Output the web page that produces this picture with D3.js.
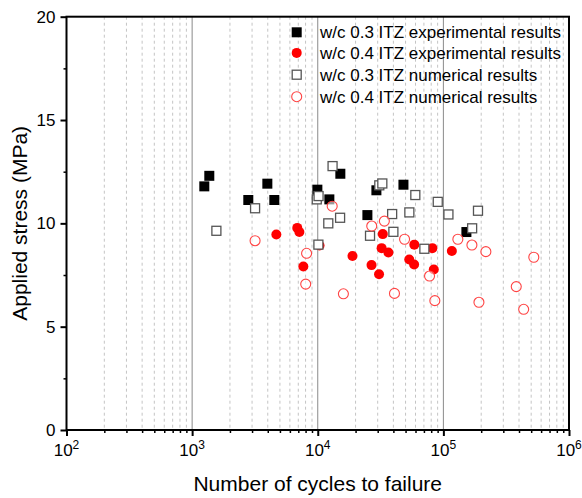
<!DOCTYPE html>
<html><head><meta charset="utf-8">
<script src="https://cdn.jsdelivr.net/npm/d3@7"></script>
<style>body{margin:0;background:#fff}svg{display:block;font-family:"Liberation Sans",Arial,sans-serif}</style>
</head><body><div id="chart"></div>
<script>
// w/c 0.3 ITZ experimental results [cycles, MPa]
const exp03 = [[1250,11.79],[1370,12.30],[2800,11.13],[3970,11.92],[4510,11.13],[9930,11.63],
  [12370,11.16],[15130,12.40],[24840,10.40],[29300,11.60],[48100,11.87],[152500,9.58]];
// w/c 0.4 ITZ experimental results
const exp04 = [[4680,9.46],[6870,9.78],[7140,9.58],[7680,7.91],[10330,8.93],[18900,8.42],[26800,7.98],
  [30750,7.54],[32940,9.48],[32240,8.80],[36500,8.59],[53500,8.25],[58500,8.01],[58700,8.97],
  [81700,8.80],[83900,7.77],[116800,8.66]];
// w/c 0.3 ITZ numerical results
const num03 = [[1560,9.64],[3170,10.73],[9820,11.16],[10150,11.32],[10120,8.97],[13120,12.77],[12130,10.00],
  [15060,10.27],[30900,11.84],[32660,11.93],[59800,11.37],[90200,11.04],[39100,10.45],[53600,10.53],
  [40000,9.59],[26070,9.40],[70600,8.77],[109700,10.43],[188600,10.61],[169400,9.76]];
// w/c 0.4 ITZ numerical results
const num04 = [[3170,9.16],[8150,8.55],[8020,7.06],[13030,10.83],[16000,6.59],[26900,9.87],[33900,10.11],
  [49100,9.23],[40800,6.61],[77600,7.45],[85500,6.26],[130400,9.23],[168700,8.95],[217900,8.63],
  [524500,8.36],[380300,6.94],[191900,6.18],[435700,5.84]];
const legendLabels = ["w/c 0.3 ITZ experimental results","w/c 0.4 ITZ experimental results",
  "w/c 0.3 ITZ numerical results","w/c 0.4 ITZ numerical results"];
const yTicks = [0,5,10,15,20];
const xTicks = [1e2,1e3,1e4,1e5,1e6];

const W=582,H=498;
const m={l:66.5,r:569,t:16.7,b:430};
const svg=d3.select("#chart").append("svg").attr("width",W).attr("height",H);
const x=d3.scaleLog().domain([1e2,1e6]).range([m.l,m.r]);
const y=d3.scaleLinear().domain([0,20]).range([m.b,m.t]);

// minor grid
const minors=[];
for(let e=2;e<6;e++)for(let k=2;k<=9;k++)minors.push(k*Math.pow(10,e));
svg.append("g").selectAll("line").data(minors).join("line")
  .attr("x1",d=>x(d)).attr("x2",d=>x(d)).attr("y1",m.t).attr("y2",m.b)
  .attr("stroke","#c4c4c4").attr("stroke-width",1).attr("stroke-dasharray","3,3");
svg.append("g").selectAll("line").data([1e3,1e4,1e5]).join("line")
  .attr("x1",d=>x(d)).attr("x2",d=>x(d)).attr("y1",m.t).attr("y2",m.b)
  .attr("stroke","#8a8a8a").attr("stroke-width",1);

// data
const gData=svg.append("g");
const sq=10, osq=9, r=5;
gData.selectAll(".e3").data(exp03).join("rect")
  .attr("x",d=>x(d[0])-sq/2).attr("y",d=>y(d[1])-sq/2).attr("width",sq).attr("height",sq).attr("fill","#000");
gData.selectAll(".e4").data(exp04).join("circle")
  .attr("cx",d=>x(d[0])).attr("cy",d=>y(d[1])).attr("r",r).attr("fill","#ff0000");
gData.selectAll(".n3").data(num03).join("rect")
  .attr("x",d=>x(d[0])-osq/2).attr("y",d=>y(d[1])-osq/2).attr("width",osq).attr("height",osq)
  .attr("fill","#fff").attr("stroke","#555").attr("stroke-width",1.3);
gData.selectAll(".n4").data(num04).join("circle")
  .attr("cx",d=>x(d[0])).attr("cy",d=>y(d[1])).attr("r",r).attr("fill","#fff").attr("fill-opacity",0.6)
  .attr("stroke","#ff4444").attr("stroke-width",1.1);

// frame
svg.append("rect").attr("x",m.l).attr("y",m.t).attr("width",m.r-m.l).attr("height",m.b-m.t)
  .attr("fill","none").attr("stroke","#000").attr("stroke-width",2);

// axes
const xAx=svg.append("g").attr("transform",`translate(0,${m.b})`)
  .call(d3.axisBottom(x).tickValues(xTicks).tickSize(6).tickFormat(""));
xAx.select(".domain").remove();
xAx.selectAll("line").attr("stroke","#000").attr("stroke-width",2);
svg.append("g").attr("transform",`translate(0,${m.b})`)
  .call(d3.axisBottom(x).tickValues(minors).tickSize(3).tickFormat(""))
  .call(g=>{g.select(".domain").remove();g.selectAll("line").attr("stroke","#000").attr("stroke-width",1.5);});
const xl=svg.append("g");
xTicks.forEach(v=>{
  const t=xl.append("text").attr("x",x(v)).attr("y",456).attr("text-anchor","middle")
    .attr("font-size",17).attr("fill","#000");
  t.append("tspan").text("10");
  t.append("tspan").attr("dy",-7).attr("font-size",12).text(Math.round(Math.log10(v)));
});

const yAx=svg.append("g").attr("transform",`translate(${m.l},0)`)
  .call(d3.axisLeft(y).tickValues(yTicks).tickSize(6).tickPadding(5));
yAx.select(".domain").remove();
yAx.selectAll("line").attr("stroke","#000").attr("stroke-width",2);
yAx.selectAll("text").attr("font-size",17).attr("fill","#000").attr("font-family","Liberation Sans, Arial");
svg.append("g").attr("transform",`translate(${m.l},0)`)
  .call(d3.axisLeft(y).tickValues([2.5,7.5,12.5,17.5]).tickSize(3).tickFormat(""))
  .call(g=>{g.select(".domain").remove();g.selectAll("line").attr("stroke","#000").attr("stroke-width",1.5);});

svg.append("text").attr("x",(m.l+m.r)/2).attr("y",491).attr("text-anchor","middle")
  .attr("font-size",21).text("Number of cycles to failure");
svg.append("text").attr("transform",`translate(27,${(m.t+m.b)/2}) rotate(-90)`).attr("text-anchor","middle")
  .attr("font-size",21).text("Applied stress (MPa)");

// legend
const lx=296.7, ly=[32.3,52.9,74.7,96.7];
const lg=svg.append("g");
lg.append("rect").attr("x",lx-sq/2).attr("y",ly[0]-sq/2).attr("width",sq).attr("height",sq).attr("fill","#000");
lg.append("circle").attr("cx",lx).attr("cy",ly[1]).attr("r",r).attr("fill","#ff0000");
lg.append("rect").attr("x",lx-osq/2).attr("y",ly[2]-osq/2).attr("width",osq).attr("height",osq)
  .attr("fill","#fff").attr("stroke","#555").attr("stroke-width",1.3);
lg.append("circle").attr("cx",lx).attr("cy",ly[3]).attr("r",r).attr("fill","#fff")
  .attr("stroke","#ff4444").attr("stroke-width",1.1);
legendLabels.forEach((s,i)=>{
  lg.append("text").attr("x",320).attr("y",ly[i]).attr("dy","0.36em").attr("font-size",17).text(s);
});
</script></body></html>
